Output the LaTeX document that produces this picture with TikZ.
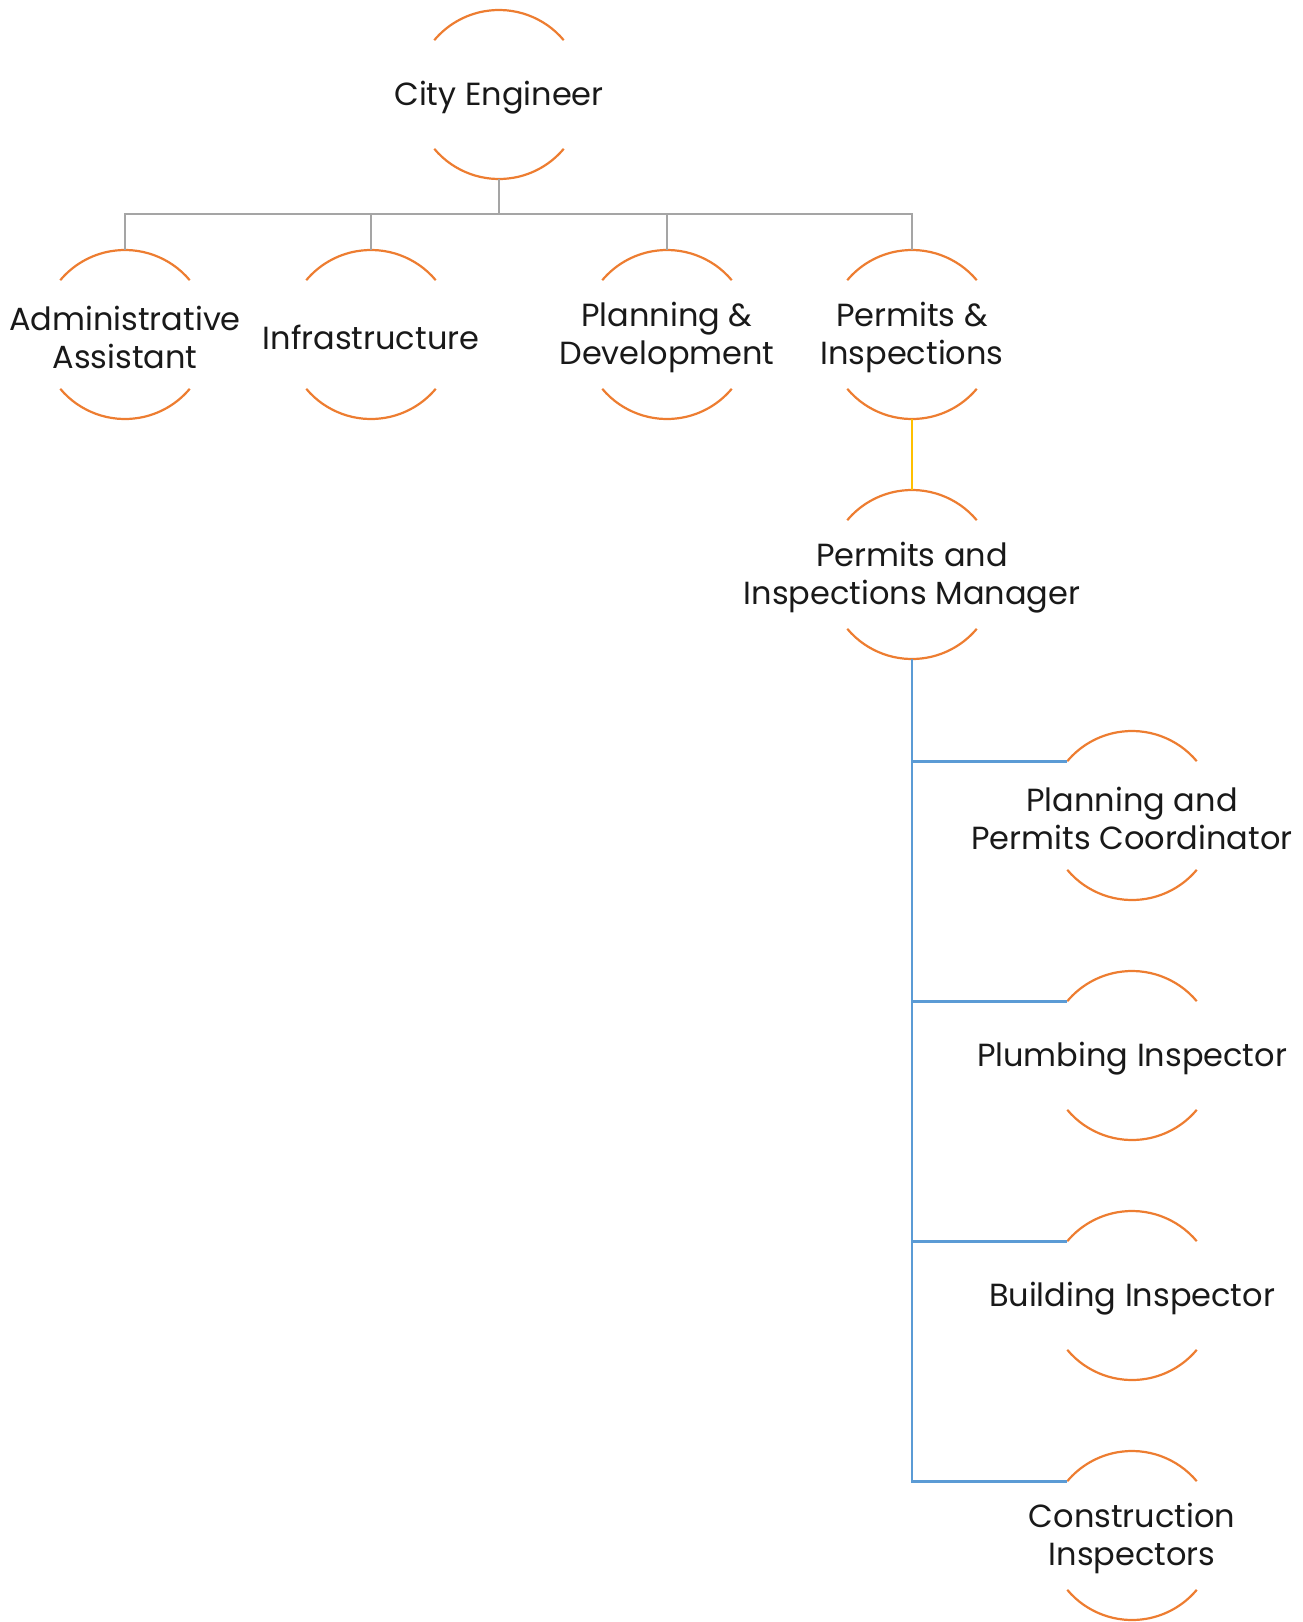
\documentclass[tikz,border=0pt]{standalone}
\usepackage{fontspec}
\setmainfont{Poppins}
\begin{document}
\begin{tikzpicture}[x=1pt,y=1pt,
  ring/.style={circle,minimum size=169pt,inner sep=0pt,outer sep=0pt},
  lbl/.style={align=center,font=\fontsize{32}{38}\selectfont,text=black!90,inner sep=0pt,yshift=-3pt},
  arcline/.style={draw=orgarc,line width=2.2pt},
  greyline/.style={draw=greyc,line width=2.8pt},
  yellowline/.style={draw=yellowc,line width=2.2pt},
  blueline/.style={draw=bluec,line width=2.8pt}]
\definecolor{orgarc}{HTML}{ED7D31}
\definecolor{greyc}{HTML}{A5A5A5}
\definecolor{yellowc}{HTML}{FFC000}
\definecolor{bluec}{HTML}{5B9BD5}
\useasboundingbox (0,0) rectangle (1303,-1622);

% ring positions
\node[ring] (ce) at (499,-94.5) {};
\node[ring] (aa) at (125,-334.5) {};
\node[ring] (inf) at (371,-334.5) {};
\node[ring] (pd) at (667,-334.5) {};
\node[ring] (pi) at (912,-334.5) {};
\node[ring] (pm) at (912,-574.5) {};
\node[ring] (pc) at (1132,-815.5) {};
\node[ring] (pl) at (1132,-1055.5) {};
\node[ring] (bi) at (1132,-1295.5) {};
\node[ring] (ci) at (1132,-1535.5) {};

% open rings: upper and lower arcs
\foreach \n in {ce,aa,inf,pd,pi,pm,pc,pl,bi,ci}{
  \draw[arcline] (\n.40) arc[start angle=40,end angle=140,radius=84.5pt];
  \draw[arcline] (\n.220) arc[start angle=220,end angle=320,radius=84.5pt];
}

% labels
\node[lbl] at (ce) {City Engineer};
\node[lbl] at (aa) {Administrative\\Assistant};
\node[lbl] at (inf) {Infrastructure};
\node[lbl] at (pd) {Planning \&\\Development};
\node[lbl] at (pi) {Permits \&\\Inspections};
\node[lbl] at (pm) {Permits and\\Inspections Manager};
\node[lbl] at (pc) {Planning and\\Permits Coordinator};
\node[lbl] at (pl) {Plumbing Inspector};
\node[lbl] at (bi) {Building Inspector};
\node[lbl] at (ci) {Construction\\Inspectors};

% top-level bus
\coordinate (bus) at (0,-214);
\draw[greyline] (ce.south) -- (ce.south |- bus);
\draw[greyline] (aa.north) -- (aa.north |- bus) -- (pi.north |- bus) -- (pi.north);
\draw[greyline] (inf.north) -- (inf.north |- bus);
\draw[greyline] (pd.north) -- (pd.north |- bus);

% manager link
\draw[yellowline] (pi.south) -- (pm.north);

% staff branches
\draw[blueline] (pm.south) |- (ci.140);
\foreach \n in {pc,pl,bi}
  \draw[blueline] (pm.south |- \n.140) -- (\n.140);
\end{tikzpicture}
\end{document}
